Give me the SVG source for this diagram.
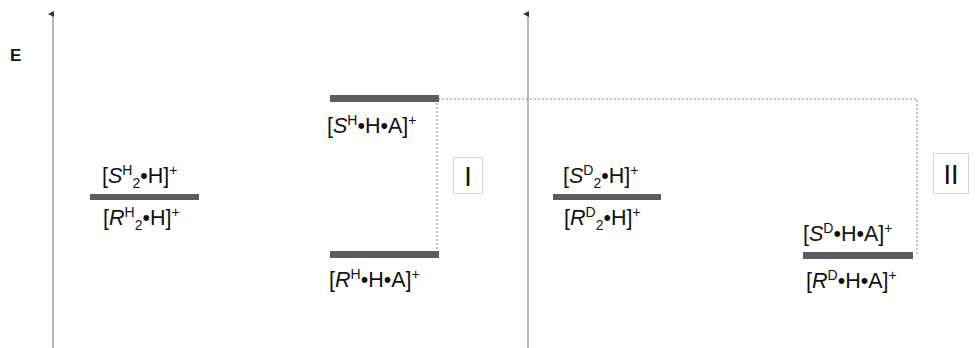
<svg xmlns="http://www.w3.org/2000/svg" width="976" height="348" viewBox="0 0 976 348">
  <defs>
    <marker id="arrowHead" markerWidth="6" markerHeight="6" refX="3" refY="5" orient="auto" markerUnits="userSpaceOnUse">
      <path d="M0,6 L3,0 L6,6 Z" fill="#333"/>
    </marker>
    <style>
      .axis { stroke: #a0a0a0; stroke-width: 1.5; fill: none; }
      .level { fill: #5c5c5c; }
      .dots { stroke: #8a8a8a; stroke-width: 1; stroke-dasharray: 2 2; fill: none; }
      .lbl { font-family: "Liberation Sans", Arial, sans-serif; font-size: 21.5px; fill: #111; }
      .it { font-style: italic; }
      .sm { font-size: 14px; }
      .box { fill: #fff; stroke: #d4d4d4; stroke-width: 1; }
      .roman { font-family: "Liberation Sans", Arial, sans-serif; font-size: 27px; fill: #111; }
      .elabel { font-family: "Liberation Sans", Arial, sans-serif; font-size: 17px; font-weight: bold; fill: #111; }
    </style>
  </defs>

  <!-- energy axes -->
  <g id="axes">
    <line class="axis" x1="53" y1="348" x2="53" y2="14" marker-end="url(#arrowHead)"/>
    <line class="axis" x1="528" y1="348" x2="528" y2="14" marker-end="url(#arrowHead)"/>
    <text class="elabel" x="10" y="61">E</text>
  </g>

  <!-- dotted guide lines -->
  <g id="connectors">
    <polyline class="dots" points="438,99 917,99 917,255"/>
    <line class="dots" x1="437" y1="99" x2="437" y2="255"/>
  </g>

  <!-- homochiral dimer, protonated -->
  <g id="dimerH">
    <rect class="level" x="90" y="194" width="109" height="6"/>
    <text class="lbl" x="102" y="183">[<tspan class="it">S</tspan><tspan class="sm" dy="-8">H</tspan><tspan class="sm" dy="13">2</tspan><tspan dy="-5">•H]</tspan><tspan class="sm" dy="-8">+</tspan></text>
    <text class="lbl" x="103" y="225">[<tspan class="it">R</tspan><tspan class="sm" dy="-8">H</tspan><tspan class="sm" dy="13">2</tspan><tspan dy="-5">•H]</tspan><tspan class="sm" dy="-8">+</tspan></text>
  </g>

  <!-- S complex with A -->
  <g id="complexSH">
    <rect class="level" x="330" y="95" width="109" height="7"/>
    <text class="lbl" x="327" y="133">[<tspan class="it">S</tspan><tspan class="sm" dy="-8">H</tspan><tspan dy="8">•H•A]</tspan><tspan class="sm" dy="-8">+</tspan></text>
  </g>

  <!-- R complex with A -->
  <g id="complexRH">
    <rect class="level" x="330" y="251" width="109" height="7"/>
    <text class="lbl" x="329" y="287">[<tspan class="it">R</tspan><tspan class="sm" dy="-8">H</tspan><tspan dy="8">•H•A]</tspan><tspan class="sm" dy="-8">+</tspan></text>
  </g>

  <!-- label I -->
  <g id="labelI">
    <rect class="box" x="453.5" y="157.5" width="29" height="36"/>
    <text class="roman" x="468" y="186" text-anchor="middle">I</text>
  </g>

  <!-- deuterated homochiral dimer -->
  <g id="dimerD">
    <rect class="level" x="553" y="194" width="108" height="6"/>
    <text class="lbl" x="563" y="183">[<tspan class="it">S</tspan><tspan class="sm" dy="-8">D</tspan><tspan class="sm" dy="13">2</tspan><tspan dy="-5">•H]</tspan><tspan class="sm" dy="-8">+</tspan></text>
    <text class="lbl" x="564" y="225">[<tspan class="it">R</tspan><tspan class="sm" dy="-8">D</tspan><tspan class="sm" dy="13">2</tspan><tspan dy="-5">•H]</tspan><tspan class="sm" dy="-8">+</tspan></text>
  </g>

  <!-- deuterated complexes with A -->
  <g id="complexD">
    <rect class="level" x="803" y="252" width="110" height="7"/>
    <text class="lbl" x="803" y="241">[<tspan class="it">S</tspan><tspan class="sm" dy="-8">D</tspan><tspan dy="8">•H•A]</tspan><tspan class="sm" dy="-8">+</tspan></text>
    <text class="lbl" x="806" y="288">[<tspan class="it">R</tspan><tspan class="sm" dy="-8">D</tspan><tspan dy="8">•H•A]</tspan><tspan class="sm" dy="-8">+</tspan></text>
  </g>

  <!-- label II -->
  <g id="labelII">
    <rect class="box" x="933.5" y="153.5" width="35" height="40"/>
    <text class="roman" x="951" y="184" text-anchor="middle">II</text>
  </g>
</svg>
